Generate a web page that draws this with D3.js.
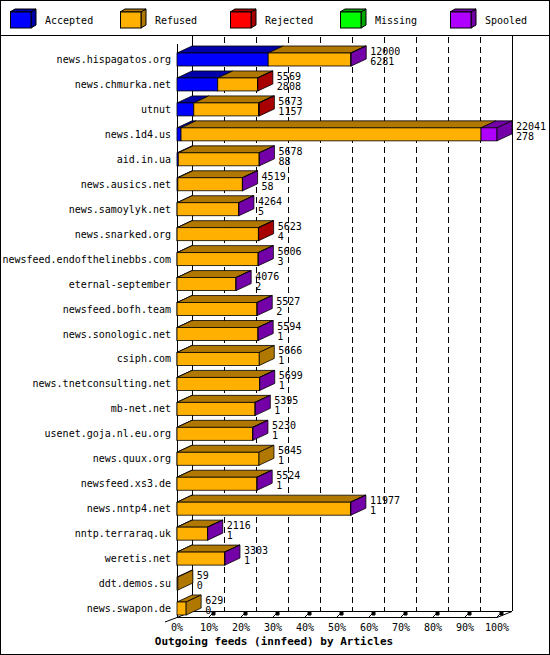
<!DOCTYPE html>
<html lang="en">
<head>
<meta charset="UTF-8">
<title>innfeed</title>
<script src="https://d3js.org/d3.v7.min.js"></script>
<style>
  body { margin: 0; background: #fff; }
  svg text { font-family: "DejaVu Sans Mono", monospace; font-size: 10px; fill: #000; }
</style>
</head>
<body>
<svg id="chart" width="550" height="655"></svg>
<script>
// Data
const hosts = ["news.hispagatos.org","news.chmurka.net","utnut","news.1d4.us","aid.in.ua","news.ausics.net",
  "news.samoylyk.net","news.snarked.org","newsfeed.endofthelinebbs.com","eternal-september","newsfeed.bofh.team",
  "news.sonologic.net","csiph.com","news.tnetconsulting.net","mb-net.net","usenet.goja.nl.eu.org","news.quux.org",
  "newsfeed.xs3.de","news.nntp4.net","nntp.terraraq.uk","weretis.net","ddt.demos.su","news.swapon.de"];
const offered  = [12000,5569,5673,22041,5678,4519,4264,5623,5606,4076,5527,5594,5666,5699,5395,5230,5645,5524,11977,2116,3303,59,629];
const accepted = [6281,2808,1157,278,88,58,5,4,3,2,2,1,1,1,1,1,1,1,1,1,1,0,0];
const rejected = [0,30,60,0,0,0,0,20,0,0,0,0,0,0,0,0,0,0,0,0,0,0,0];
const missing  = [0,0,0,0,0,0,0,0,0,0,0,0,0,0,0,0,0,0,0,0,0,0,0];
const spooled  = [30,0,0,1100,20,20,20,0,20,20,20,20,0,20,20,20,0,20,20,20,20,0,0];
const seriesNames = ["Accepted","Refused","Rejected","Missing","Spooled"];
const ticks = [0,10,20,30,40,50,60,70,80,90,100];

const front = ["#0000ff","#ffb000","#ff0000","#00ff00","#b000ff"];
const dark  = ["#0000a8","#b07800","#a80000","#00a800","#7400a8"];

const svg = d3.select("#chart");
const dx = 15, dy = 7, bh = 13;

// frame
svg.append("rect").attr("x",0.5).attr("y",0.5).attr("width",549).attr("height",654)
  .attr("fill","none").attr("stroke","#000");
svg.append("line").attr("x1",0).attr("x2",550).attr("y1",35.5).attr("y2",35.5).attr("stroke","#000");

// legend
seriesNames.forEach((s, i) => {
  const g = svg.append("g").attr("transform", `translate(${10 + i*110},0)`);
  g.append("path").attr("d","M21,12 L26,9 L26,25 L21,28 Z").attr("fill",dark[i]).attr("stroke","#000");
  g.append("path").attr("d","M0,12 L5,9 L26,9 L21,12 Z").attr("fill",dark[i]).attr("stroke","#000");
  g.append("rect").attr("x",0.5).attr("y",12).attr("width",20.5).attr("height",16)
    .attr("fill",front[i]).attr("stroke","#000");
  g.append("text").attr("x",35).attr("y",24).text(s);
});

const x = d3.scaleLinear().domain([0, d3.max(offered)]).range([177, 497]);
const y = d3.scalePoint().domain(hosts).range([59, 608]);
const pct = d3.scaleLinear().domain([0,100]).range([177, 497]);

// back grid
ticks.slice(1, -1).forEach(t => {
  svg.append("line").attr("x1",pct(t)+dx+0.5).attr("x2",pct(t)+dx+0.5).attr("y1",37).attr("y2",611)
    .attr("stroke","#000").attr("stroke-dasharray","6,4");
});
svg.append("line").attr("x1",512.5).attr("x2",512.5).attr("y1",35).attr("y2",611).attr("stroke","#000");
svg.append("line").attr("x1",192.5).attr("x2",192.5).attr("y1",35).attr("y2",611).attr("stroke","#000");
// floor
svg.append("path").attr("d","M192,611.5 L512,611.5 L497,617.5 L177,617.5 Z").attr("fill","none").attr("stroke","#000");
svg.append("line").attr("x1",177).attr("x2",165).attr("y1",617.5).attr("y2",622).attr("stroke","#000");
svg.append("line").attr("x1",177.5).attr("x2",177.5).attr("y1",44).attr("y2",618).attr("stroke","#000");
ticks.slice(1).forEach(t => {
  const px = pct(t);
  svg.append("path").attr("d",`M${px},617 L${px+4},613 M${px+3},612 h3 v3 h-3 Z`)
    .attr("stroke","#000").attr("fill","#000");
  svg.append("text").attr("x",px).attr("y",631).attr("text-anchor","middle").text(t + "%");
});
svg.append("text").attr("x",pct(0)).attr("y",631).attr("text-anchor","middle").text("0%");
svg.append("text").attr("x",274).attr("y",645).attr("text-anchor","middle")
  .style("font-weight","bold").style("font-size","11px").text("Outgoing feeds (innfeed) by Articles");

// bars
hosts.forEach((h, i) => {
  const refused = offered[i] - accepted[i] - rejected[i] - missing[i] - spooled[i];
  const vals = [accepted[i], refused, rejected[i], missing[i], spooled[i]];
  const yc = y(h), top = yc - 6;
  let acc = 0, lastIdx = -1;
  const g = svg.append("g");
  vals.forEach((v, k) => {
    if (v <= 0) return;
    const x0 = x(acc), x1 = x(acc + v);
    acc += v; lastIdx = k;
    g.append("path").attr("d",`M${x0},${top} L${x0+dx},${top-dy} L${x1+dx},${top-dy} L${x1},${top} Z`)
      .attr("fill",dark[k]).attr("stroke","#000").attr("stroke-width",0.8);
    g.append("rect").attr("x",x0).attr("y",top).attr("width",x1-x0).attr("height",bh)
      .attr("fill",front[k]).attr("stroke","#000").attr("stroke-width",0.8);
  });
  const xe = x(acc);
  if (lastIdx >= 0) {
    g.append("path").attr("d",`M${xe},${top} L${xe+dx},${top-dy} L${xe+dx},${top-dy+bh} L${xe},${top+bh} Z`)
      .attr("fill",dark[lastIdx]).attr("stroke","#000").attr("stroke-width",0.8);
  }
  svg.append("text").attr("x",xe+dx+4).attr("y",yc-4).text(offered[i]);
  svg.append("text").attr("x",xe+dx+4).attr("y",yc+6).text(accepted[i]);
  svg.append("text").attr("x",171).attr("y",yc+4).attr("text-anchor","end").text(h);
});
</script>
</body>
</html>
